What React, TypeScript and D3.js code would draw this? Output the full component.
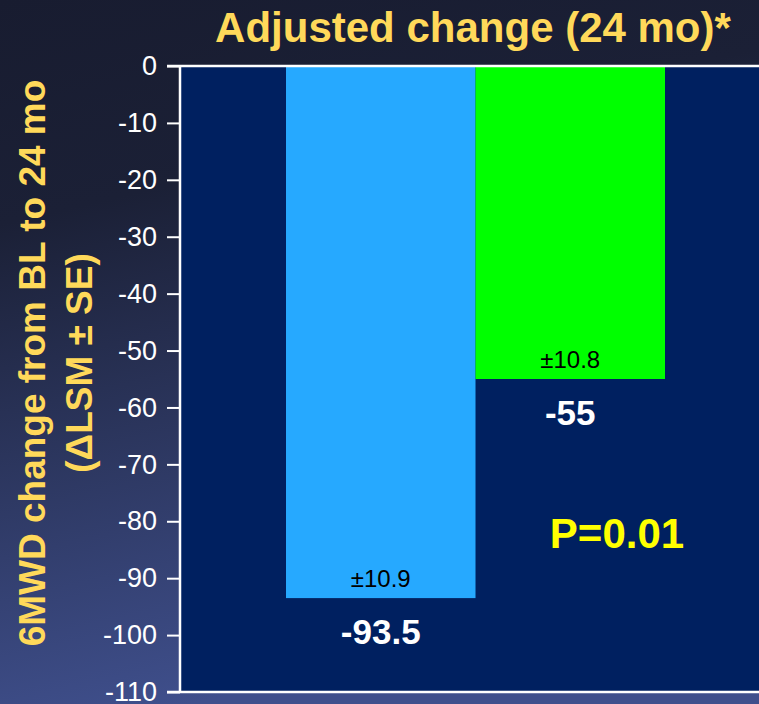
import { useEffect, useRef } from 'react'
import * as d3 from 'd3'

const CATEGORIES = ['Group A', 'Group B']
const CHANGE = [-93.5, -55]
const SE = [10.9, 10.8]
const BAR_COLORS = ['#26a9ff', '#00ff00']
const Y_TICKS = [0, -10, -20, -30, -40, -50, -60, -70, -80, -90, -100, -110]
const P_VALUE = 'P=0.01'

const W = 759
const H = 704
const FONT = '"Liberation Sans", Arial, sans-serif'

// plain hyphen-minus, as on the slide
const num = (v: number) => String(v)

export default function App() {
  const svgRef = useRef<SVGSVGElement | null>(null)

  useEffect(() => {
    const svg = svgRef.current
    if (!svg) return
    const root = d3.select(svg)
    root.selectAll('*').remove()

    const plot = { left: 180, right: W, top: 66, bottom: 692 }

    const y = d3.scaleLinear().domain([0, -110]).range([plot.top, plot.bottom])
    const x = d3.scaleBand<string>().domain(CATEGORIES).range([286, 665]).padding(0)

    // background
    const defs = root.append('defs')
    const grad = defs
      .append('linearGradient')
      .attr('id', 'bg')
      .attr('x1', 0)
      .attr('y1', 0)
      .attr('x2', 0.25)
      .attr('y2', 1)
    grad.append('stop').attr('offset', '0%').attr('stop-color', '#181c30')
    grad.append('stop').attr('offset', '30%').attr('stop-color', '#1b2036')
    grad.append('stop').attr('offset', '100%').attr('stop-color', '#3f4f8c')
    root.append('rect').attr('width', W).attr('height', H).attr('fill', 'url(#bg)')

    // plot area
    root
      .append('rect')
      .attr('x', plot.left)
      .attr('y', plot.top)
      .attr('width', plot.right - plot.left)
      .attr('height', plot.bottom - plot.top)
      .attr('fill', '#002060')

    // bars
    const data = CATEGORIES.map((c, i) => ({ c, v: CHANGE[i], se: SE[i], color: BAR_COLORS[i] }))
    root
      .append('g')
      .selectAll('rect')
      .data(data)
      .join('rect')
      .attr('x', (d) => x(d.c) ?? 0)
      .attr('y', y(0))
      .attr('width', x.bandwidth())
      .attr('height', (d) => y(d.v) - y(0))
      .attr('fill', (d) => d.color)

    // SE labels inside bars
    root
      .append('g')
      .selectAll('text')
      .data(data)
      .join('text')
      .attr('x', (d) => (x(d.c) ?? 0) + x.bandwidth() / 2)
      .attr('y', (d) => y(d.v) - 11)
      .attr('text-anchor', 'middle')
      .attr('font-family', FONT)
      .attr('font-size', 24)
      .attr('fill', '#000')
      .text((d) => `±${d.se}`)

    // value labels below bars
    root
      .append('g')
      .selectAll('text')
      .data(data)
      .join('text')
      .attr('x', (d) => (x(d.c) ?? 0) + x.bandwidth() / 2)
      .attr('y', (d) => y(d.v) + 46)
      .attr('text-anchor', 'middle')
      .attr('font-family', FONT)
      .attr('font-size', 35)
      .attr('font-weight', 'bold')
      .attr('fill', '#fff')
      .text((d) => num(d.v))

    // axis
    const axis = root
      .append('g')
      .attr('transform', `translate(${plot.left},0)`)
      .call(
        d3
          .axisLeft(y)
          .tickValues(Y_TICKS)
          .tickSize(13)
          .tickPadding(10)
          .tickFormat((d) => num(+d)),
      )
    axis.select('.domain').remove()
    axis.selectAll('line').attr('stroke', '#fff').attr('stroke-width', 2)
    axis
      .selectAll('text')
      .attr('fill', '#fff')
      .attr('font-family', FONT)
      .attr('font-size', 27)

    const frame = root.append('g').attr('stroke', '#fff').attr('stroke-width', 2.5)
    frame.append('line').attr('x1', plot.left - 13).attr('x2', W).attr('y1', y(0)).attr('y2', y(0))
    frame.append('line').attr('x1', plot.left - 13).attr('x2', W).attr('y1', y(-110)).attr('y2', y(-110))
    frame.append('line').attr('x1', plot.left).attr('x2', plot.left).attr('y1', y(0)).attr('y2', y(-110))

    // title
    root
      .append('text')
      .attr('x', 473)
      .attr('y', 42)
      .attr('text-anchor', 'middle')
      .attr('font-family', FONT)
      .attr('font-size', 42)
      .attr('font-weight', 'bold')
      .attr('fill', '#ffd95a')
      .text('Adjusted change (24 mo)*')

    // y label
    const yLabel = ['6MWD change from BL to 24 mo', '(ΔLSM ± SE)']
    yLabel.forEach((line, i) => {
      root
        .append('text')
        .attr('transform', `translate(${45 + i * 47},363) rotate(-90)`)
        .attr('text-anchor', 'middle')
        .attr('font-family', FONT)
        .attr('font-size', 37)
        .attr('font-weight', 'bold')
        .attr('fill', '#ffd95a')
        .text(line)
    })

    // p value
    root
      .append('text')
      .attr('x', 617)
      .attr('y', 548)
      .attr('text-anchor', 'middle')
      .attr('font-family', FONT)
      .attr('font-size', 42)
      .attr('font-weight', 'bold')
      .attr('fill', '#ffff00')
      .text(P_VALUE)
  }, [])

  return (
    <svg
      ref={svgRef}
      width={W}
      height={H}
      style={{ position: 'fixed', top: 0, left: 0, display: 'block' }}
    />
  )
}
